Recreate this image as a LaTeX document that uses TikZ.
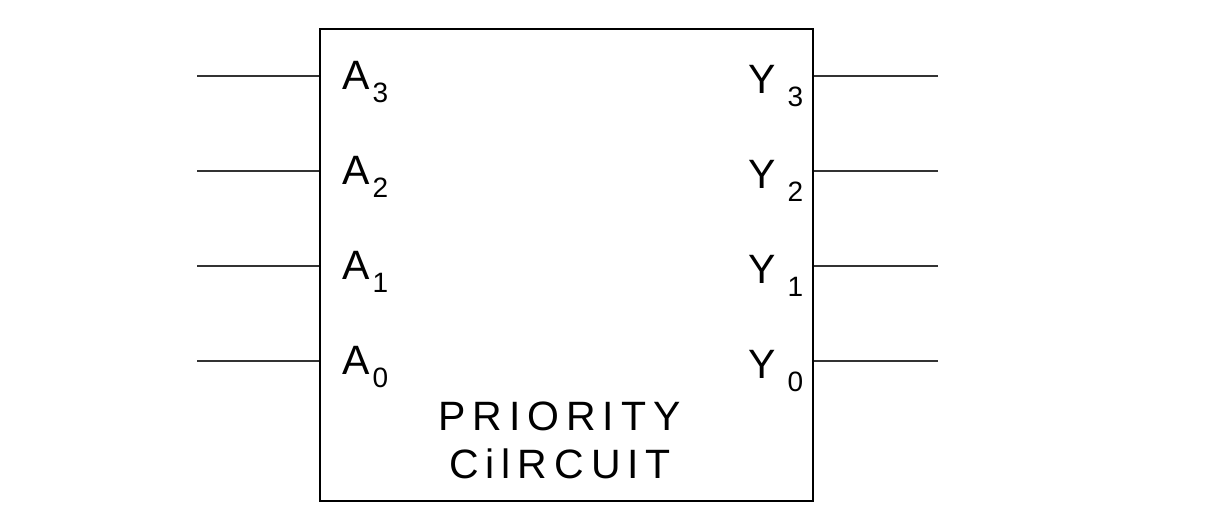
\documentclass[tikz,border=0pt]{standalone}
\usepackage{fontspec}
\setmainfont{Liberation Sans}
\usetikzlibrary{calc}
\newcommand{\pinsub}[1]{\raisebox{-13pt}{\fontsize{28}{30}\selectfont #1}}
\tikzset{
  pinlabel/.style={inner sep=0pt, font=\fontsize{41}{48}\selectfont},
  lead/.style={line width=1.2pt, draw=black!80},
}
\begin{document}
\begin{tikzpicture}[x=1pt, y=-1pt]
    \useasboundingbox (0,0) rectangle (1213,531);
    \node[draw, line width=1.2pt, minimum width=493pt, minimum height=472pt, inner sep=0pt] (chip) at (566.5,265) {};

    \coordinate (a3) at (197,76);
    \coordinate (a2) at (197,171);
    \coordinate (a1) at (197,266);
    \coordinate (a0) at (197,361);
    \coordinate (y3) at (938,76);
    \coordinate (y2) at (938,171);
    \coordinate (y1) at (938,266);
    \coordinate (y0) at (938,361);

    \draw[lead] (a3) -- (a3 -| chip.west);
    \draw[lead] (a2) -- (a2 -| chip.west);
    \draw[lead] (a1) -- (a1 -| chip.west);
    \draw[lead] (a0) -- (a0 -| chip.west);
    \draw[lead] (y3) -- (y3 -| chip.east);
    \draw[lead] (y2) -- (y2 -| chip.east);
    \draw[lead] (y1) -- (y1 -| chip.east);
    \draw[lead] (y0) -- (y0 -| chip.east);

    \node[pinlabel, anchor=base west] (la3) at (342,89) {A\hspace{3pt}\pinsub{3}};
    \node[pinlabel, anchor=base west] (la2) at (342,184) {A\hspace{3pt}\pinsub{2}};
    \node[pinlabel, anchor=base west] (la1) at (342,279) {A\hspace{3pt}\pinsub{1}};
    \node[pinlabel, anchor=base west] (la0) at (342,374) {A\hspace{3pt}\pinsub{0}};

    \node[pinlabel, anchor=base west] (ly3) at (748,93) {Y\hspace{12pt}\pinsub{3}};
    \node[pinlabel, anchor=base west] (ly2) at (748,188) {Y\hspace{12pt}\pinsub{2}};
    \node[pinlabel, anchor=base west] (ly1) at (748,283) {Y\hspace{12pt}\pinsub{1}};
    \node[pinlabel, anchor=base west] (ly0) at (748,378) {Y\hspace{12pt}\pinsub{0}};

    \node[pinlabel, anchor=base west] (title) at (438,430) {\addfontfeature{LetterSpace=17}PRIORITY};
    \node[pinlabel, anchor=base west] (title2) at (449,478) {\addfontfeature{LetterSpace=17}CilRCUIT};
\end{tikzpicture}
\end{document}
